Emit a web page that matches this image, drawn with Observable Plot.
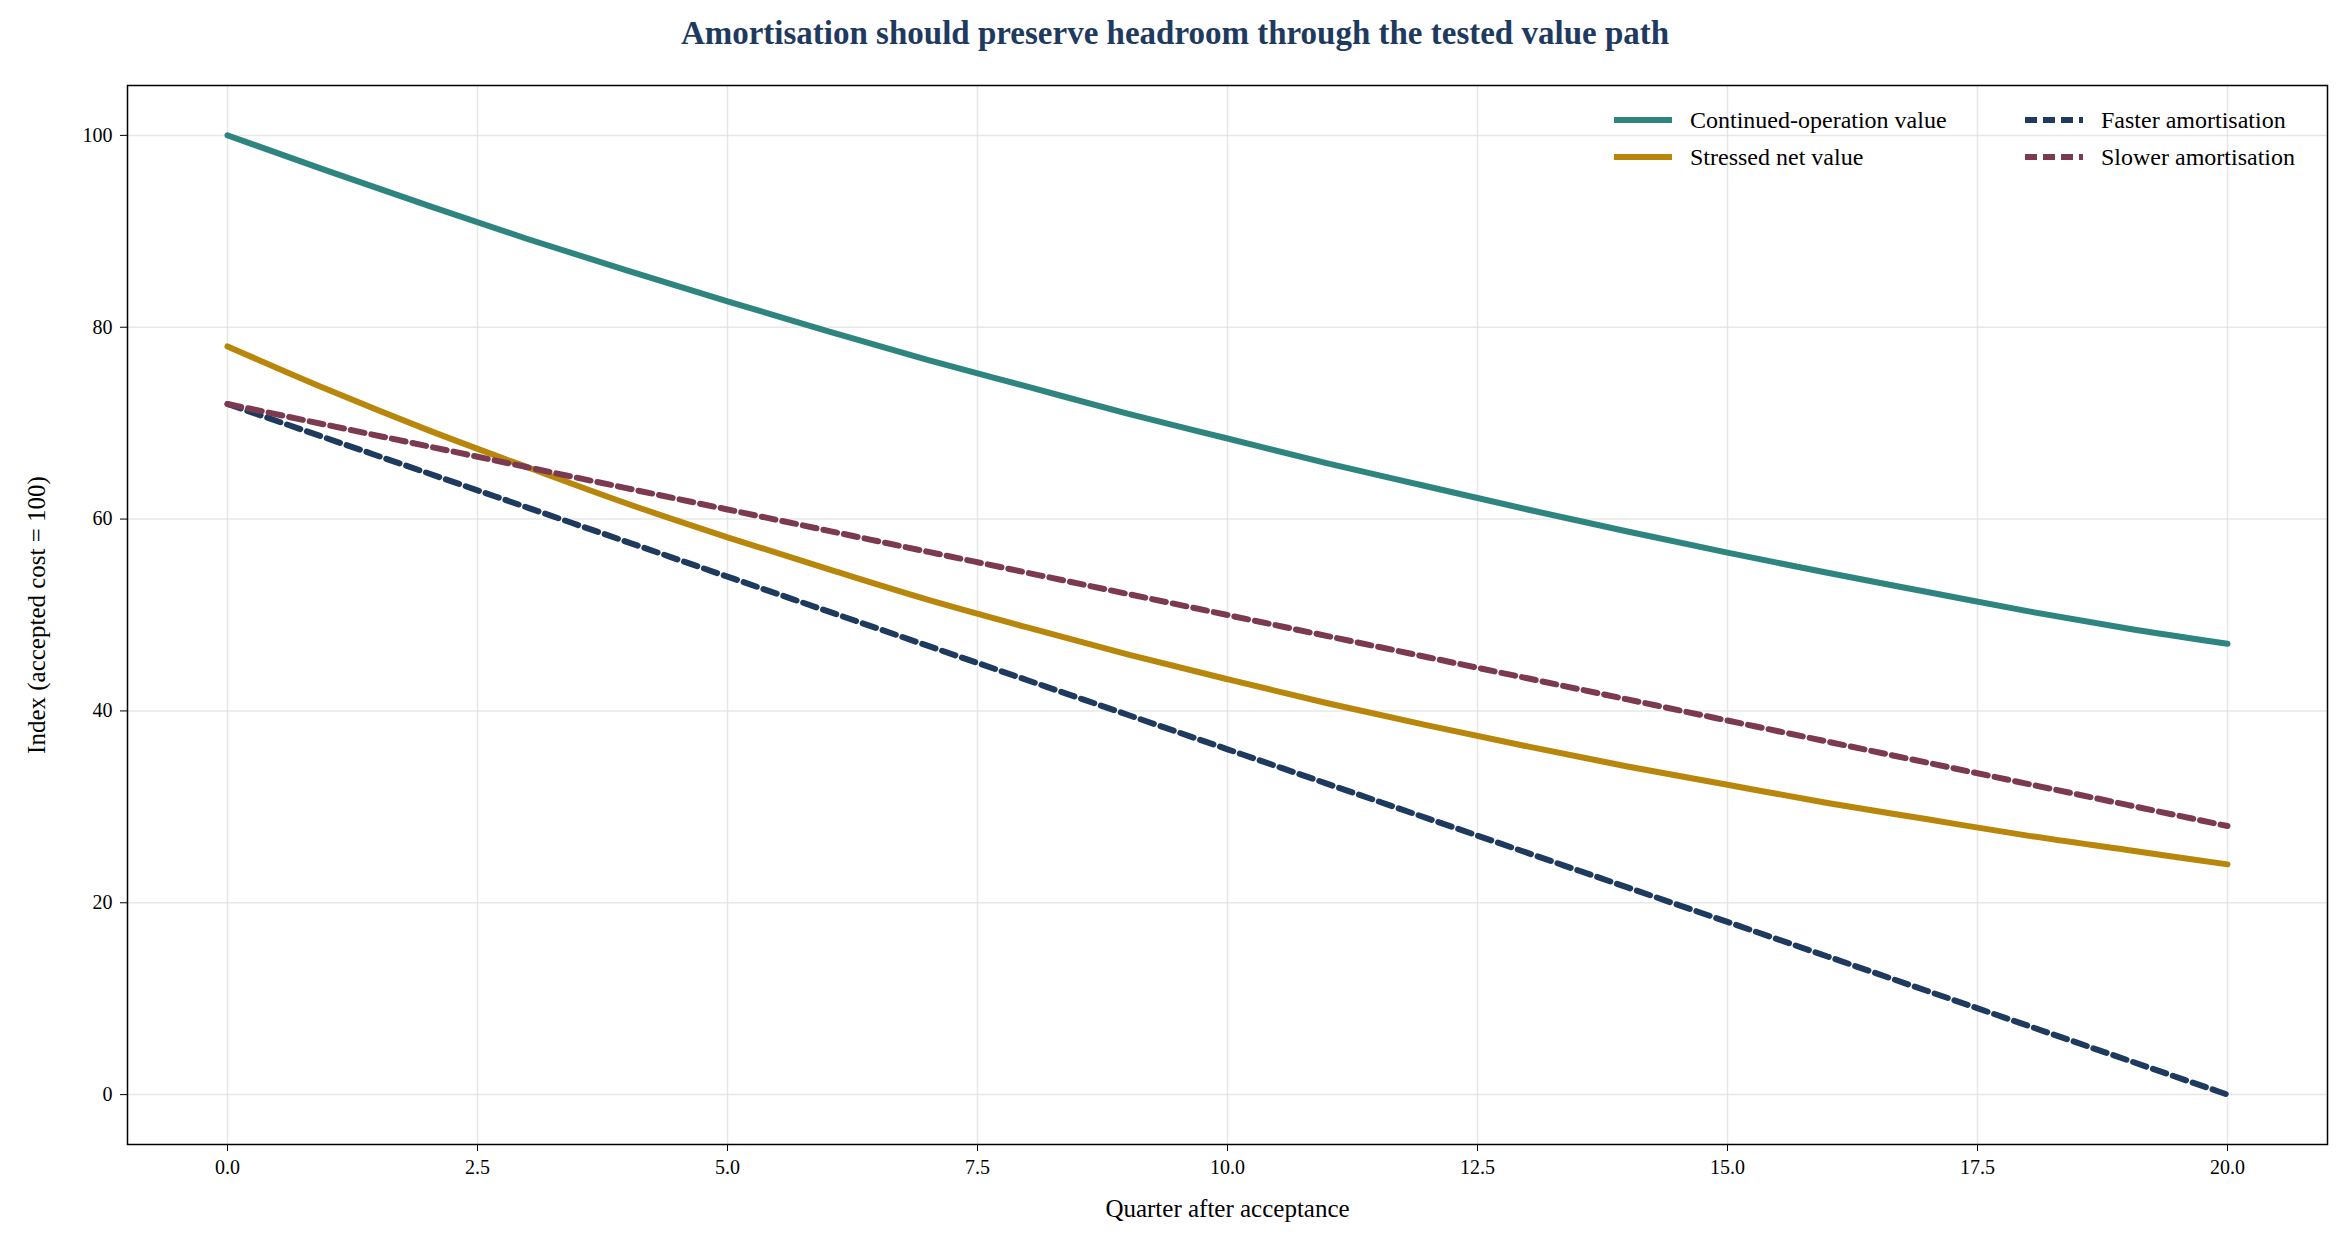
<!DOCTYPE html>
<html><head><meta charset="utf-8">
<script src="https://cdn.jsdelivr.net/npm/d3@7"></script>
<script src="https://cdn.jsdelivr.net/npm/@observablehq/plot@0.6"></script>
<style>
body{margin:0;background:#fff;font-family:"Liberation Serif","DejaVu Serif",serif;}
#wrap{position:relative;width:2350px;height:1253px;}
#title{height:60px;line-height:66px;text-align:center;font-weight:bold;font-size:33px;color:#1f3a5f;}
#legend{position:absolute;left:1600px;top:100px;}
</style></head><body>
<div id="wrap"><div id="title">Amortisation should preserve headroom through the tested value path</div><div id="chart"></div><div id="legend"></div></div>
<script>
const quarters = d3.range(0, 21);
const continued = [100,96.3,92.7,89.2,85.9,82.7,79.6,76.6,73.8,71.0,68.4,65.8,63.4,61.0,58.7,56.5,54.4,52.4,50.4,48.6,47.0];
const stressed = [78,73.5,69.3,65.4,61.6,58.1,54.8,51.6,48.7,45.9,43.3,40.8,38.5,36.3,34.2,32.3,30.4,28.7,27.0,25.5,24.0];
const faster = [72,68.4,64.8,61.2,57.6,54,50.4,46.8,43.2,39.6,36,32.4,28.8,25.2,21.6,18,14.4,10.8,7.2,3.6,0];
const slower = [72,69.8,67.6,65.4,63.2,61,58.8,56.6,54.4,52.2,50,47.8,45.6,43.4,41.2,39,36.8,34.6,32.4,30.2,28];
const xTicks = [0,2.5,5,7.5,10,12.5,15,17.5,20];
const yTicks = [0,20,40,60,80,100];
const series = [
  {name:"Continued-operation value", values:continued, color:"#2e8580", dash:null},
  {name:"Stressed net value", values:stressed, color:"#b8860b", dash:null},
  {name:"Faster amortisation", values:faster, color:"#1f3a5f", dash:"14,7"},
  {name:"Slower amortisation", values:slower, color:"#7b3a50", dash:"14,7"}
];
const rows = s => quarters.map((q,i)=>({q, v:s.values[i]}));
const plot = Plot.plot({
  width:2350, height:1193, marginTop:25, marginBottom:109, marginLeft:127, marginRight:23,
  style:{fontFamily:"Liberation Serif, serif", fontSize:"20px", color:"#000", background:"#fff"},
  x:{domain:[-1,21]},
  y:{domain:[-5.2,105.2]},
  marks:[
    Plot.gridX(xTicks,{stroke:"#ddd", strokeOpacity:0.7, strokeWidth:1.5}),
    Plot.gridY(yTicks,{stroke:"#ddd", strokeOpacity:0.7, strokeWidth:1.5}),
    ...series.map(s=>Plot.line(rows(s),{x:"q", y:"v", stroke:s.color, strokeWidth:6, strokeDasharray:s.dash, curve:"monotone-x"})),
    Plot.frame({stroke:"#000", strokeWidth:1.5}),
    Plot.axisX({ticks:xTicks, tickFormat:d3.format(".1f"), tickSize:7, tickPadding:8, fontSize:20, label:"Quarter after acceptance", labelAnchor:"center", labelArrow:"none", labelOffset:72}),
    Plot.axisY({ticks:yTicks, tickSize:7, tickPadding:8, fontSize:20, label:"Index (accepted cost = 100)", labelAnchor:"center", labelArrow:"none", labelOffset:100}),
  ]
});
plot.querySelectorAll("g[aria-label='x-axis label'] text, g[aria-label='y-axis label'] text").forEach(t=>t.style.fontSize="25px");
plot.querySelectorAll("g[aria-label='x-axis label'], g[aria-label='y-axis label']").forEach(g=>g.setAttribute("font-size","25"));
document.getElementById("chart").appendChild(plot);
const pos = [[0,0],[0,37],[411,0],[411,37]];
let svg = `<svg width="740" height="80" style="font-family:Liberation Serif,serif;font-size:24px">`;
series.forEach((s,i)=>{const [x,y]=pos[i];
  svg+=`<line x1="${x+14}" x2="${x+72}" y1="${y+20}" y2="${y+20}" stroke="${s.color}" stroke-width="6" ${s.dash?`stroke-dasharray="12,6"`:""}/>`;
  svg+=`<text x="${x+90}" y="${y+28}">${s.name}</text>`;});
svg+=`</svg>`;
document.getElementById("legend").innerHTML = svg;
</script></body></html>
